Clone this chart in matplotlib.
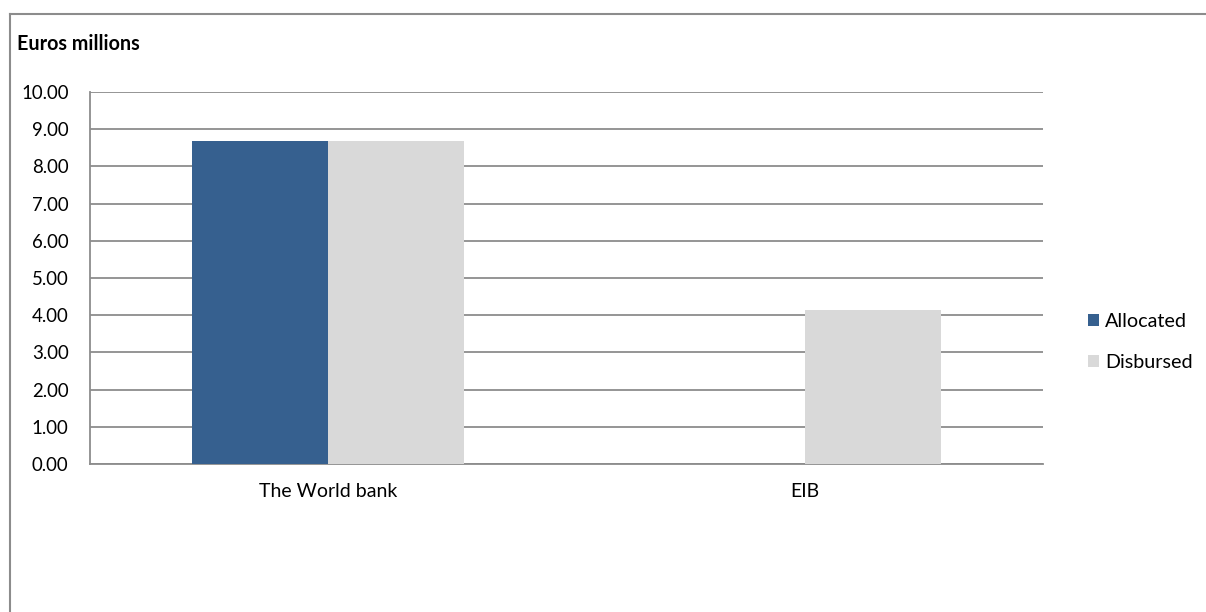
import matplotlib
matplotlib.use("Agg")
import matplotlib.pyplot as plt
from matplotlib.lines import Line2D
import numpy as np

categories = ["The World bank", "EIB"]
allocated = [8.68, 0.0]
disbursed = [8.68, 4.14]
series_names = ["Allocated", "Disbursed"]
yticks = [0, 1, 2, 3, 4, 5, 6, 7, 8, 9, 10]

plt.rcParams['font.family'] = ['Lato', 'DejaVu Sans']

W, H = 1206, 612
fig = plt.figure(figsize=(W / 100, H / 100), dpi=100)

# outer chart border (left and top visible)
fig.add_artist(Line2D([9.5 / W, 9.5 / W], [0, 1 - 14 / H], transform=fig.transFigure,
                      color="#8c8c8c", lw=1.5))
fig.add_artist(Line2D([9.5 / W, 1], [1 - 14 / H, 1 - 14 / H], transform=fig.transFigure,
                      color="#8c8c8c", lw=1.5))

ax_l, ax_r, ax_t, ax_b = 90, 1043, 92, 464
ax = fig.add_axes([ax_l / W, 1 - ax_b / H, (ax_r - ax_l) / W, (ax_b - ax_t) / H])

x = np.arange(len(categories))
bw = 0.2855
ax.bar(x - bw / 2, allocated, bw, color="#36608f", label=series_names[0], zorder=3)
ax.bar(x + bw / 2, disbursed, bw, color="#d9d9d9", label=series_names[1], zorder=3)

ax.set_xlim(-0.5, len(categories) - 0.5)
ax.set_ylim(0, 10)
ax.set_yticks(yticks)
ax.set_yticklabels([f"{v:.2f}" for v in yticks], fontsize=13.4)
ax.set_xticks(x)
ax.set_xticklabels(categories, fontsize=14)
ax.tick_params(axis="both", length=0, colors="black")
ax.tick_params(axis="y", pad=15.5)
ax.tick_params(axis="x", pad=14)

ax.grid(axis="y", color="#8c8c8c", lw=1.3, zorder=0)
for s in ["top", "right"]:
    ax.spines[s].set_visible(False)
ax.spines["left"].set_color("#8c8c8c")
ax.spines["left"].set_linewidth(1.3)
ax.spines["bottom"].set_color("#8c8c8c")
ax.spines["bottom"].set_linewidth(1.3)

fig.text(17 / W, 1 - 44 / H, "Euros millions", fontsize=14.2, fontweight="bold",
         va="center", ha="left")

leg = ax.legend(loc="upper left", bbox_to_anchor=((1088 - ax_l) / (ax_r - ax_l), 1 - (313 - ax_t) / (ax_b - ax_t)),
                frameon=False, fontsize=14.2, handlelength=0.55, handleheight=0.55,
                handletextpad=0.3, labelspacing=1.2, borderaxespad=0, borderpad=0)

fig.savefig("out.png", dpi=100, facecolor="white")
